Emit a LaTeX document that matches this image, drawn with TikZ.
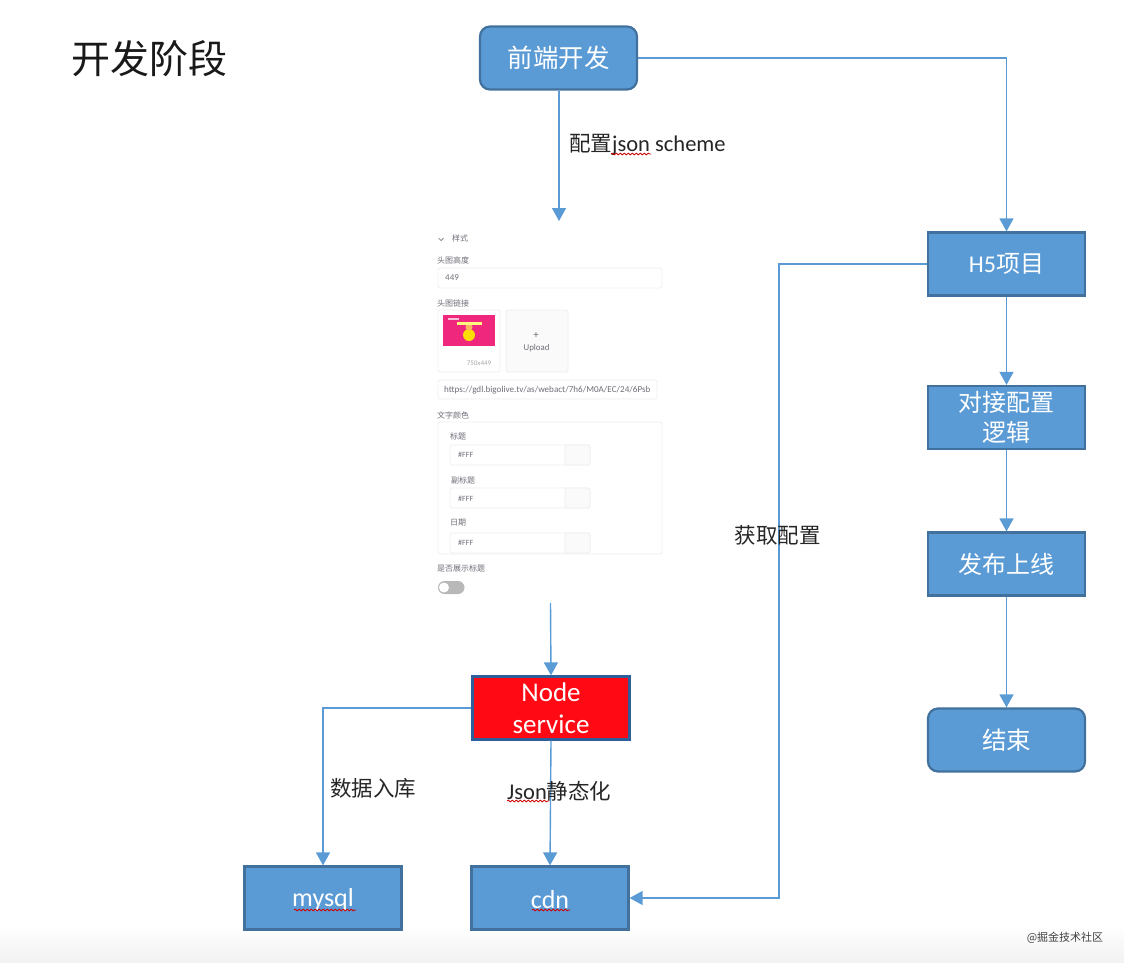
\documentclass[tikz,border=0pt]{standalone}
\usepackage{fontspec}
\setmainfont{Carlito}
\newfontfamily\cjk{Noto Sans CJK SC}[Scale=1.0]
\usetikzlibrary{arrows.meta,decorations.pathmorphing,calc}
\definecolor{boxfill}{HTML}{5B9BD5}
\definecolor{boxline}{HTML}{41719C}
\definecolor{lineblue}{HTML}{5B9BD5}
\definecolor{nodered}{HTML}{FF0A14}
\definecolor{nodeline}{HTML}{2F5F9A}
\definecolor{formline}{HTML}{EEEEF0}
\definecolor{formtext}{HTML}{6E6E78}
\definecolor{pinkimg}{HTML}{F0287D}
\tikzset{
  x=1pt,y=-1pt,
  flowbox/.style={draw=boxline,fill=boxfill,line width=2.2pt,minimum width=157pt,minimum height=63pt,
    inner sep=0pt,text=white,font=\fontsize{26}{32}\selectfont,align=center},
  cjkbox/.style={flowbox,font=\fontsize{24}{29}\selectfont\cjk},
  roundbox/.style={flowbox,rounded corners=10pt},
  arrowline/.style={draw=lineblue,line width=1.4pt,-{Triangle[width=14pt,length=13pt]}},
  flowlabel/.style={inner sep=0pt,text=black!85,font=\fontsize{22.5}{26}\selectfont},
  wavy/.style={draw=red!80!black,line width=0.8pt,decorate,decoration={snake,amplitude=0.9pt,segment length=4pt}},
  formtxt/.style={inner sep=0pt,text=formtext,font=\fontsize{8}{10}\selectfont},
  formbox/.style={draw=formline,line width=0.8pt,rounded corners=1.5pt},
}
\begin{document}
\begin{tikzpicture}
\useasboundingbox (0,0) rectangle (1124,962);
\shade[top color=white,bottom color=black!5,draw=none] (0,925) rectangle (1124,962);

% title
\node[inner sep=0pt,text=black!90,font=\fontsize{39}{44}\selectfont\cjk] (title) at (149.5,59) {开发阶段};

% flow boxes
\node[roundbox,font=\fontsize{25.5}{32}\selectfont\cjk] (front) at (558.5,58) {前端开发};
\node[flowbox,font=\fontsize{24}{29}\selectfont] (h5) at (1006.5,264) {H5{\cjk 项目}};
\node[cjkbox,font=\fontsize{24}{29.5}\selectfont\cjk] (dock) at (1006.5,417.5) {对接配置\\逻辑};
\node[cjkbox] (pub) at (1006.5,564) {发布上线};
\node[roundbox,font=\fontsize{24.5}{29}\selectfont\cjk] (end) at (1006.5,740) {结束};
\node[flowbox,draw=nodeline,fill=nodered,font=\fontsize{27}{32}\selectfont] (svc) at (551,708) {Node\\service};
\node[flowbox,text height=21pt] (mysql) at (323,898) {mysql};
\node[flowbox,text height=21pt] (cdn) at (550,898) {cdn};

% free connector ends
\coordinate (formtop) at (559,221);
\coordinate (formbottom) at (550.5,603);
\coordinate (lane) at (779,264);

% connectors
\draw[arrowline] (front.south -| formtop) -- (formtop);
\draw[arrowline] (front.east) -| (h5.north);
\draw[arrowline] (h5) -- (dock);
\draw[arrowline] (dock) -- (pub);
\draw[arrowline] (pub) -- (end);
\draw[arrowline] (formbottom) -- (svc.north);
\draw[arrowline] (svc.west) -| (mysql.north);
\draw[arrowline] (svc.south) -- (cdn.north);
\draw[arrowline] (h5.west) -- (lane) |- (cdn.east);

% labels
\node[flowlabel,anchor=west] (lab1) at (569,145) {{\fontsize{21.5}{26}\selectfont\cjk 配置}json scheme};
\node[flowlabel,font=\fontsize{21.5}{26}\selectfont\cjk] (lab2) at (777.5,535) {获取配置};
\node[flowlabel,font=\fontsize{21.5}{26}\selectfont\cjk] (lab3) at (373,788) {数据入库};
\node[flowlabel,anchor=west] (lab4) at (507,791) {Json{\fontsize{21.5}{26}\selectfont\cjk 静态化}};

% spelling squiggles
\draw[wavy] (611,154) -- (651,154);
\draw[wavy] (507,801) -- (549,801);
\draw[wavy] (294,910) -- (356,910);
\draw[wavy] (532,910) -- (570,910);

% form screenshot
\draw[formtext,line width=0.7pt] (438.5,238) -- (441,240.5) -- (443.5,238);
\node[formtxt,font=\fontsize{8}{10}\selectfont\cjk] (f1) at (460,238.5) {样式};
\node[formtxt,font=\fontsize{8}{10}\selectfont\cjk] (f2) at (453,260) {头图高度};
\draw[formbox] (438,268) rectangle (662,288);
\node[formtxt,anchor=west,font=\fontsize{9}{10}\selectfont] (f3) at (445,278) {449};
\node[formtxt,font=\fontsize{8}{10}\selectfont\cjk] (f4) at (453,303) {头图链接};
\draw[formbox] (438,310) rectangle (500,372);
\fill[pinkimg] (443,315) rectangle (495,346);
\fill[yellow!80!orange] (469,335) circle (6);
\fill[orange!60!white] (469,327) circle (3.5);
\fill[white!70!pinkimg] (448,318) rectangle (459,320);
\fill[yellow!50!white] (457,322) rectangle (482,325);
\node[formtxt,text=black!35,font=\fontsize{7}{9}\selectfont] (f5) at (479,363) {750x449};
\draw[formbox,fill=black!2] (506,310) rectangle (568,372);
\node[formtxt,font=\fontsize{11}{12}\selectfont] (f6) at (536,335) {+};
\node[formtxt,font=\fontsize{8.8}{10}\selectfont] (f7) at (536.5,348) {Upload};
\draw[formbox] (438,380) rectangle (657,399);
\node[formtxt,anchor=west,font=\fontsize{9.1}{10}\selectfont] (f8) at (444,390) {https://gdl.bigolive.tv/as/webact/7h6/M0A/EC/24/6Psb};
\node[formtxt,font=\fontsize{8}{10}\selectfont\cjk] (f9) at (453,415) {文字颜色};
\draw[formbox] (438,422) rectangle (662,554);
\node[formtxt,font=\fontsize{8}{10}\selectfont\cjk] (f10) at (458,436) {标题};
\draw[formbox] (450,445) rectangle (590,465);
\draw[formbox,fill=black!2] (565,445) rectangle (590,465);
\node[formtxt,anchor=west] (f11) at (458,454.5) {\#FFF};
\node[formtxt,font=\fontsize{8}{10}\selectfont\cjk] (f12) at (463,480) {副标题};
\draw[formbox] (450,488) rectangle (590,508);
\draw[formbox,fill=black!2] (565,488) rectangle (590,508);
\node[formtxt,anchor=west] (f13) at (458,498.5) {\#FFF};
\node[formtxt,font=\fontsize{8}{10}\selectfont\cjk] (f14) at (458,523) {日期};
\draw[formbox] (450,533) rectangle (590,553);
\draw[formbox,fill=black!2] (565,533) rectangle (590,553);
\node[formtxt,anchor=west] (f15) at (458,542.5) {\#FFF};
\node[formtxt,font=\fontsize{8}{10}\selectfont\cjk] (f16) at (461,568) {是否展示标题};
\fill[black!28,rounded corners=6.5pt] (438,581) rectangle (464.5,594);
\fill[white] (444,587.5) circle (5);

% watermark
\node[inner sep=0pt,text=black!75,font=\fontsize{11}{12}\selectfont\cjk] (wm) at (1065,938) {@掘金技术社区};
\end{tikzpicture}
\end{document}
